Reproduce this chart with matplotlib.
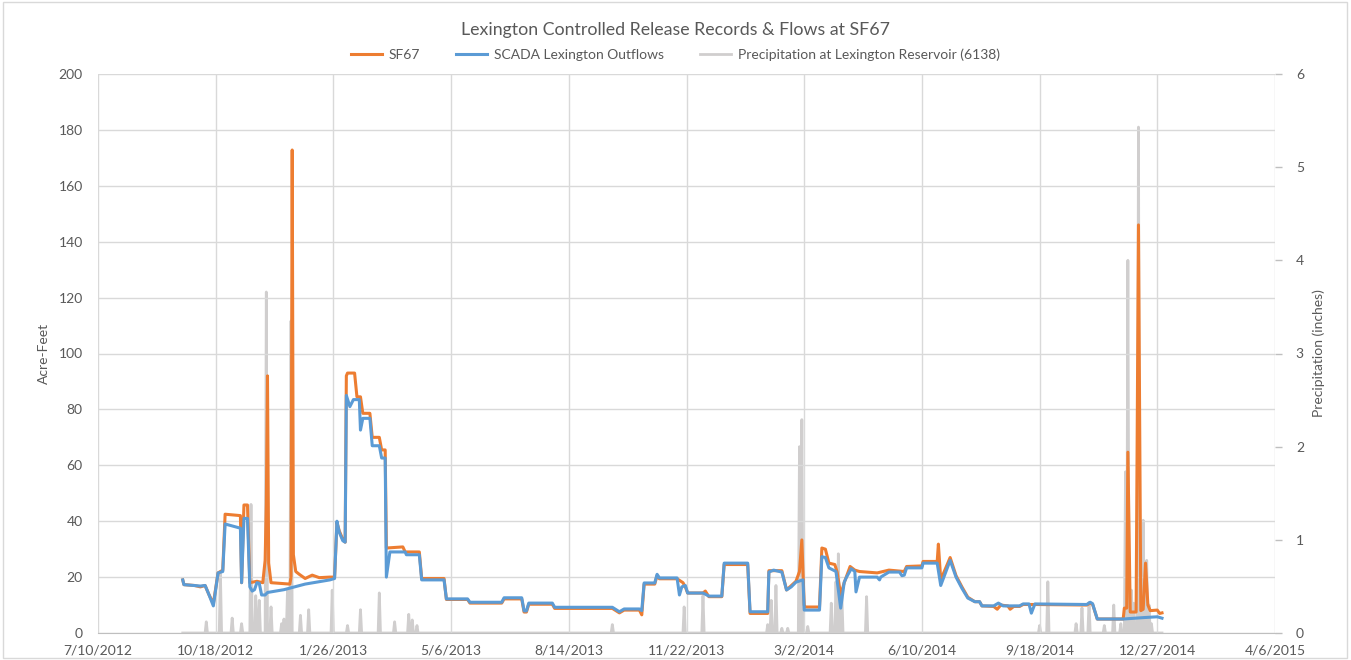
import matplotlib
matplotlib.use("Agg")
import matplotlib.pyplot as plt
import matplotlib.dates as mdates
from matplotlib.patches import Rectangle
from matplotlib.ticker import FuncFormatter, MultipleLocator
import pandas as pd

TEXT, GRID = "#595959", "#d9d9d9"
ORANGE, BLUE, GRAY = "#ed7d31", "#5b9bd5", "#d0cece"

# SF67 flows (acre-feet), knots
sf67_dates = [
    "2012-09-20", "2012-09-21", "2012-09-30", "2012-10-05", "2012-10-09", "2012-10-12", "2012-10-16",
    "2012-10-20", "2012-10-24", "2012-10-26", "2012-11-08", "2012-11-09", "2012-11-11", "2012-11-14",
    "2012-11-16", "2012-11-22", "2012-11-27", "2012-11-29", "2012-11-30", "2012-12-01", "2012-12-02",
    "2012-12-04", "2012-12-20", "2012-12-21", "2012-12-22", "2012-12-23", "2012-12-25", "2012-12-28",
    "2013-01-02", "2013-01-08", "2013-01-14", "2013-01-23", "2013-01-27", "2013-01-29", "2013-01-31",
    "2013-02-03", "2013-02-05", "2013-02-06", "2013-02-07", "2013-02-13", "2013-02-15", "2013-02-18",
    "2013-02-20", "2013-02-26", "2013-02-28", "2013-03-06", "2013-03-08", "2013-03-11", "2013-03-12",
    "2013-03-26", "2013-03-28", "2013-04-09", "2013-04-11", "2013-04-30", "2013-05-02", "2013-05-20",
    "2013-05-22", "2013-06-18", "2013-06-20", "2013-07-05", "2013-07-07", "2013-07-09", "2013-07-11",
    "2013-07-31", "2013-08-02", "2013-09-20", "2013-09-26", "2013-09-30", "2013-10-13", "2013-10-15",
    "2013-10-17", "2013-10-26", "2013-10-28", "2013-10-30", "2013-11-14", "2013-11-19", "2013-11-21",
    "2013-11-23", "2013-12-06", "2013-12-08", "2013-12-11", "2013-12-22", "2013-12-24", "2014-01-13",
    "2014-01-15", "2014-01-30", "2014-01-31", "2014-02-11", "2014-02-15", "2014-02-23", "2014-02-26",
    "2014-02-28", "2014-03-02", "2014-03-03", "2014-03-15", "2014-03-17", "2014-03-20", "2014-03-23",
    "2014-03-28", "2014-03-30", "2014-04-02", "2014-04-05", "2014-04-10", "2014-04-14", "2014-04-18",
    "2014-05-03", "2014-05-13", "2014-05-26", "2014-05-28", "2014-06-10", "2014-06-11", "2014-06-23",
    "2014-06-24", "2014-06-26", "2014-07-04", "2014-07-09", "2014-07-14", "2014-07-19", "2014-07-25",
    "2014-07-29", "2014-07-31", "2014-08-10", "2014-08-13", "2014-08-16", "2014-08-22", "2014-08-24",
    "2014-08-27", "2014-09-01", "2014-09-04", "2014-09-14", "2014-10-28", "2014-10-31", "2014-11-02",
    "2014-11-06", "2014-11-28", "2014-11-29", "2014-12-01", "2014-12-02", "2014-12-04", "2014-12-09",
    "2014-12-11", "2014-12-13", "2014-12-15", "2014-12-17", "2014-12-19", "2014-12-21", "2014-12-27",
    "2014-12-29", "2014-12-31",
]
sf67_vals = [
    19.0, 17.3, 17.0, 16.5, 17.0, 14.0, 10.5,
    21.5, 22.5, 42.5, 42.0, 18.0, 45.8, 45.8,
    18.0, 18.5, 18.0, 26.0, 46.0, 92.0, 25.0,
    18.0, 17.5, 20.0, 172.8, 28.0, 22.0, 21.0,
    19.5, 20.7, 19.8, 20.0, 20.0, 39.5, 36.5,
    33.5, 32.5, 92.0, 93.0, 93.0, 84.5, 84.5,
    78.6, 78.6, 70.0, 70.0, 65.5, 65.5, 30.4,
    30.8, 29.0, 29.0, 19.5, 19.5, 12.0, 12.0,
    10.7, 10.7, 12.2, 12.2, 7.5, 7.5, 10.3,
    10.3, 8.8, 8.8, 7.2, 8.2, 8.2, 6.5,
    17.5, 17.5, 20.6, 19.4, 19.4, 18.0, 16.5,
    14.3, 14.3, 15.0, 13.0, 13.0, 24.5, 24.5,
    7.0, 7.0, 22.3, 22.3, 15.4, 18.5, 22.0,
    33.3, 10.0, 9.3, 9.3, 30.4, 30.0, 25.0,
    24.5, 21.8, 13.6, 18.0, 23.8, 22.5, 22.0,
    21.5, 22.5, 22.0, 23.8, 24.0, 25.6, 25.6,
    31.8, 19.0, 27.0, 20.5, 16.5, 12.8, 11.2,
    11.2, 9.7, 9.5, 8.5, 10.0, 9.7, 8.5,
    9.5, 9.5, 10.2, 10.2, 10.0, 10.7, 10.3,
    5.0, 5.0, 8.9, 8.9, 64.7, 7.5, 7.5,
    146.0, 8.0, 8.5, 25.0, 10.0, 8.0, 8.2,
    7.0, 7.2,
]

# SCADA Lexington outflows (acre-feet)
scada_dates = [
    "2012-09-20", "2012-09-21", "2012-09-30", "2012-10-05", "2012-10-09", "2012-10-12", "2012-10-16",
    "2012-10-20", "2012-10-24", "2012-10-26", "2012-11-08", "2012-11-09", "2012-11-11", "2012-11-14",
    "2012-11-16", "2012-11-18", "2012-11-20", "2012-11-22", "2012-11-24", "2012-11-26", "2012-11-29",
    "2012-12-01", "2012-12-15", "2013-01-02", "2013-01-23", "2013-01-27", "2013-01-29", "2013-01-31",
    "2013-02-03", "2013-02-05", "2013-02-06", "2013-02-09", "2013-02-12", "2013-02-17", "2013-02-18",
    "2013-02-20", "2013-02-26", "2013-02-28", "2013-03-06", "2013-03-08", "2013-03-11", "2013-03-12",
    "2013-03-15", "2013-03-28", "2013-03-29", "2013-04-09", "2013-04-11", "2013-04-30", "2013-05-02",
    "2013-05-20", "2013-05-22", "2013-06-18", "2013-06-20", "2013-07-05", "2013-07-07", "2013-07-09",
    "2013-07-11", "2013-07-31", "2013-08-02", "2013-09-20", "2013-09-26", "2013-09-30", "2013-10-13",
    "2013-10-15", "2013-10-17", "2013-10-26", "2013-10-28", "2013-10-30", "2013-11-14", "2013-11-16",
    "2013-11-18", "2013-11-21", "2013-11-23", "2013-12-06", "2013-12-11", "2013-12-22", "2013-12-24",
    "2014-01-13", "2014-01-15", "2014-01-30", "2014-01-31", "2014-02-04", "2014-02-11", "2014-02-15",
    "2014-02-19", "2014-02-23", "2014-03-01", "2014-03-02", "2014-03-15", "2014-03-17", "2014-03-20",
    "2014-03-23", "2014-03-29", "2014-04-02", "2014-04-05", "2014-04-07", "2014-04-11", "2014-04-14",
    "2014-04-15", "2014-04-18", "2014-05-03", "2014-05-05", "2014-05-06", "2014-05-13", "2014-05-22",
    "2014-05-24", "2014-05-26", "2014-05-28", "2014-06-10", "2014-06-11", "2014-06-23", "2014-06-26",
    "2014-07-04", "2014-07-09", "2014-07-14", "2014-07-19", "2014-07-25", "2014-07-29", "2014-07-31",
    "2014-08-10", "2014-08-14", "2014-08-18", "2014-09-01", "2014-09-04", "2014-09-09", "2014-09-11",
    "2014-09-14", "2014-10-28", "2014-10-31", "2014-11-02", "2014-11-06", "2014-11-28", "2014-12-15",
    "2014-12-27", "2014-12-31",
]
scada_vals = [
    19.0, 17.3, 17.0, 16.8, 17.0, 14.0, 9.7,
    21.5, 22.0, 39.0, 37.5, 18.0, 41.0, 41.0,
    16.5, 15.0, 15.5, 18.0, 17.8, 13.6, 13.6,
    14.5, 15.5, 17.5, 19.0, 19.5, 40.0, 36.0,
    33.0, 32.5, 85.0, 81.0, 83.5, 83.5, 72.6,
    76.8, 76.8, 67.0, 67.0, 62.6, 62.6, 20.0,
    29.0, 29.0, 28.0, 28.0, 19.0, 19.0, 12.2,
    12.2, 11.0, 11.0, 12.6, 12.6, 7.9, 7.9,
    10.7, 10.7, 9.2, 9.2, 7.6, 8.6, 8.6,
    8.0, 17.9, 17.9, 21.0, 19.7, 19.7, 13.6,
    16.5, 17.0, 14.3, 14.3, 13.2, 13.2, 25.0,
    25.0, 7.6, 7.6, 21.8, 22.5, 21.8, 15.4,
    16.5, 18.2, 19.0, 8.2, 8.2, 27.3, 27.0,
    23.3, 22.0, 8.9, 18.2, 20.0, 23.0, 22.0,
    14.7, 20.0, 20.0, 19.0, 20.0, 21.8, 21.8,
    20.5, 20.7, 23.3, 23.3, 25.0, 25.0, 17.0,
    26.0, 20.0, 16.0, 12.5, 11.2, 11.2, 9.7,
    9.7, 10.7, 9.7, 9.7, 10.4, 10.4, 7.1,
    10.4, 10.2, 11.0, 10.5, 5.0, 5.0, 5.5,
    5.8, 5.3,
]

# Daily precipitation at Lexington Reservoir (inches); days not listed were dry
rain_first, rain_last = "2012-09-20", "2014-12-31"
rain_dates = [
    "2012-10-10", "2012-10-22", "2012-11-01", "2012-11-09", "2012-11-17", "2012-11-21", "2012-11-24",
    "2012-11-30", "2012-12-04", "2012-12-13", "2012-12-15", "2012-12-18", "2012-12-21", "2012-12-29",
    "2013-01-05", "2013-01-25", "2013-02-07", "2013-02-18", "2013-03-06", "2013-03-19", "2013-03-31",
    "2013-04-03", "2013-04-07", "2013-09-20", "2013-11-20", "2013-12-06", "2014-01-30", "2014-02-02",
    "2014-02-06", "2014-02-11", "2014-02-16", "2014-02-26", "2014-02-28", "2014-03-05", "2014-03-25",
    "2014-03-29", "2014-03-31", "2014-04-03", "2014-04-24", "2014-09-18", "2014-09-25", "2014-10-19",
    "2014-10-24", "2014-10-30", "2014-11-12", "2014-11-20", "2014-11-26", "2014-11-30", "2014-12-02",
    "2014-12-05", "2014-12-07", "2014-12-11", "2014-12-15", "2014-12-18", "2014-12-20", "2014-12-22",
]
rain_vals = [
    0.12, 0.64, 0.16, 0.10, 1.38, 0.40, 0.35,
    3.66, 0.28, 0.10, 0.15, 0.46, 3.35, 0.19,
    0.25, 0.46, 0.08, 0.25, 0.43, 0.12, 0.20,
    0.14, 0.08, 0.09, 0.28, 0.40, 0.09, 0.35,
    0.51, 0.05, 0.05, 2.00, 2.29, 0.07, 0.32,
    0.55, 0.85, 0.40, 0.39, 0.08, 0.55, 0.10,
    0.27, 0.33, 0.08, 0.30, 0.10, 1.73, 4.00,
    0.46, 0.32, 5.43, 1.21, 0.78, 0.30, 0.10,
]

x_first, x_last = "2012-07-10", "2015-04-06"

sf67 = pd.Series(sf67_vals, index=pd.to_datetime(sf67_dates))
scada = pd.Series(scada_vals, index=pd.to_datetime(scada_dates))
rain = pd.Series(rain_vals, index=pd.to_datetime(rain_dates))
rain = rain.reindex(pd.date_range(rain_first, rain_last, freq="D"), fill_value=0.0)

plt.rcParams.update({"font.family": ["Lato", "DejaVu Sans"], "text.color": TEXT,
                     "xtick.color": TEXT, "ytick.color": TEXT, "axes.labelcolor": TEXT})

fig = plt.figure(figsize=(13.51, 6.6), dpi=100)
ax = fig.add_axes([98 / 1351, 1 - 633 / 660, (1275 - 98) / 1351, (633 - 74) / 660])
ax2 = ax.twinx()
ax.set_zorder(ax2.get_zorder() + 1)
ax.patch.set_visible(False)

ax2.plot(rain.index, rain.values, color=GRAY, lw=2.0, label="Precipitation at Lexington Reservoir (6138)")
ax.plot(sf67.index, sf67.values, color=ORANGE, lw=2.2, label="SF67")
ax.plot(scada.index, scada.values, color=BLUE, lw=2.2, label="SCADA Lexington Outflows")

x0, x1 = pd.Timestamp(x_first), pd.Timestamp(x_last)
ax.set_xlim(x0, x1)
ax.set_xticks(pd.date_range(x0, x1, freq="100D"))
ax.xaxis.set_major_formatter(FuncFormatter(
    lambda v, _: (lambda d: f"{d.month}/{d.day}/{d.year}")(mdates.num2date(v))))
ax.set_ylim(0, 200)
ax.yaxis.set_major_locator(MultipleLocator(20))
ax2.set_ylim(0, 6)
ax2.yaxis.set_major_locator(MultipleLocator(1))

ax.grid(True, color=GRID, lw=1)
ax.set_axisbelow(True)
for a in (ax, ax2):
    for s in a.spines.values():
        s.set_visible(False)
ax.spines["bottom"].set_visible(True)
ax.spines["bottom"].set_color("#bfbfbf")
ax.tick_params(axis="x", length=0, pad=8, labelsize=10)
ax.tick_params(axis="y", length=0, pad=11, labelsize=10)
ax2.tick_params(axis="y", length=5, width=1, color="#bfbfbf", pad=10, labelsize=10)
ax.set_ylabel("Acre-Feet", fontsize=10, labelpad=6)
ax2.set_ylabel("Precipitation (inches)", fontsize=10, labelpad=6)

fig.text(0.5, 1 - 30 / 660, "Lexington Controlled Release Records & Flows at SF67",
         ha="center", va="center", fontsize=12.8)
h1, l1 = ax.get_legend_handles_labels()
h2, l2 = ax2.get_legend_handles_labels()
fig.legend(h1 + h2, l1 + l2, loc="center", bbox_to_anchor=(0.5, 1 - 55 / 660), ncol=3,
           frameon=False, fontsize=10, handlelength=2.2, columnspacing=2.6, handletextpad=0.5)

fig.patches.append(Rectangle((0.002, 0.003), 0.995, 0.994, transform=fig.transFigure,
                             fill=False, edgecolor="#d9d9d9", lw=1))

fig.savefig("out.png", dpi=100)
